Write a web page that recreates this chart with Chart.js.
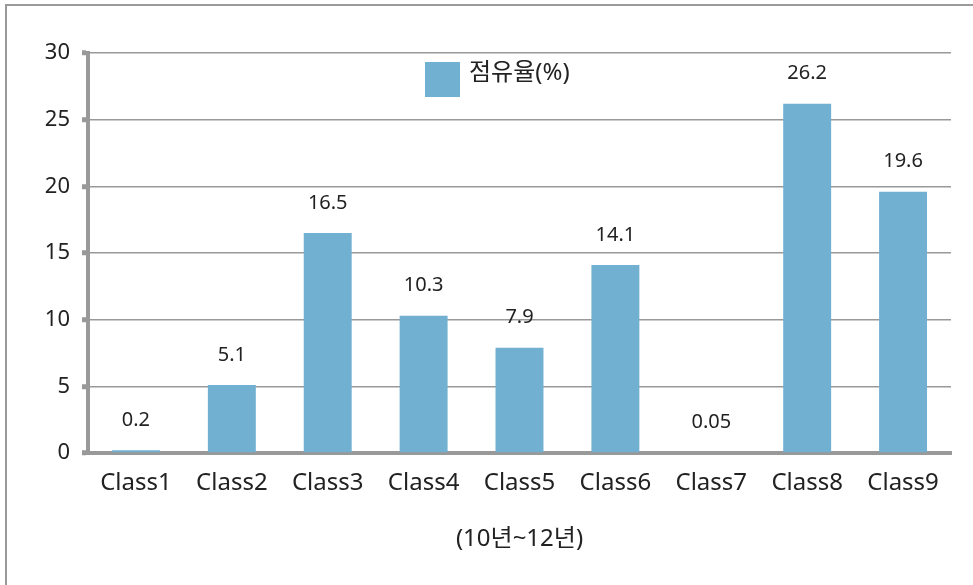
<!DOCTYPE html>
<html>
<head>
<meta charset="utf-8">
<script src="https://cdn.jsdelivr.net/npm/chart.js@4.4.1/dist/chart.umd.min.js"></script>
<style>
  html, body { margin: 0; padding: 0; background: #fff; }
  #wrap { position: relative; width: 973px; height: 585px; }
</style>
</head>
<body>
<div id="wrap"><canvas id="c" width="973" height="585"></canvas></div>
<script>
const categories = ['Class1', 'Class2', 'Class3', 'Class4', 'Class5', 'Class6', 'Class7', 'Class8', 'Class9'];
const shareValues = [0.2, 5.1, 16.5, 10.3, 7.9, 14.1, 0.05, 26.2, 19.6];
const valueLabels = ['0.2', '5.1', '16.5', '10.3', '7.9', '14.1', '0.05', '26.2', '19.6'];
const seriesName = '점유율(%)';
const xTitle = '(10년~12년)';

const FONT = '"Noto Sans", "Noto Sans CJK KR", sans-serif';
const BAR = '#71B0D0';
const AXIS = '#999999';

// frame lines along the left and top edges
const framePlugin = {
  id: 'frame',
  beforeDraw(chart) {
    const ctx = chart.ctx;
    ctx.save();
    ctx.strokeStyle = '#9a9a9a';
    ctx.lineWidth = 2;
    ctx.beginPath();
    ctx.moveTo(6, 585);
    ctx.lineTo(6, 5);
    ctx.lineTo(973, 5);
    ctx.stroke();
    ctx.restore();
  }
};

// value labels above each bar
const valueLabelPlugin = {
  id: 'valueLabels',
  afterDatasetsDraw(chart) {
    const ctx = chart.ctx;
    const meta = chart.getDatasetMeta(0);
    ctx.save();
    ctx.font = '20px ' + FONT;
    ctx.fillStyle = '#222';
    ctx.textAlign = 'center';
    ctx.textBaseline = 'middle';
    meta.data.forEach((bar, i) => {
      ctx.fillText(valueLabels[i], bar.x, bar.y - 30);
    });
    ctx.restore();
  }
};

// legend box drawn inside the plot area
const legendPlugin = {
  id: 'insideLegend',
  afterDatasetsDraw(chart) {
    const ctx = chart.ctx;
    const ds = chart.data.datasets[0];
    ctx.save();
    ctx.fillStyle = ds.backgroundColor;
    ctx.fillRect(425, 62, 35, 35);
    ctx.font = '24px ' + FONT;
    ctx.fillStyle = '#222';
    ctx.textAlign = 'left';
    ctx.textBaseline = 'middle';
    ctx.fillText(ds.label, 469, 73);
    ctx.restore();
  }
};

new Chart(document.getElementById('c'), {
  type: 'bar',
  data: {
    labels: categories,
    datasets: [{
      label: seriesName,
      data: shareValues,
      backgroundColor: BAR,
      borderWidth: 0,
      barPercentage: 0.5,
      categoryPercentage: 1.0
    }]
  },
  options: {
    responsive: false,
    animation: false,
    devicePixelRatio: 1,
    layout: { padding: { left: 0, top: 53, right: 22, bottom: 31 } },
    plugins: {
      legend: { display: false },
      tooltip: { enabled: false }
    },
    scales: {
      x: {
        afterFit(scale) { scale.height = 101; },
        grid: { display: false, drawTicks: false },
        border: { display: true, color: AXIS, width: 4 },
        ticks: { color: '#222', font: { family: FONT, size: 24 }, padding: 16 },
        title: {
          display: true, text: xTitle, color: '#222',
          font: { family: FONT, size: 24 }, padding: { top: 20, bottom: 0 }
        }
      },
      y: {
        min: 0, max: 30,
        afterFit(scale) { scale.width = 88; },
        ticks: { stepSize: 5, color: '#222', font: { family: FONT, size: 22 }, padding: 12 },
        grid: { color: AXIS, lineWidth: 1.5, tickLength: 6, tickColor: AXIS, tickWidth: 5 },
        border: { display: true, color: AXIS, width: 4 }
      }
    }
  },
  plugins: [framePlugin, valueLabelPlugin, legendPlugin]
});
</script>
</body>
</html>
